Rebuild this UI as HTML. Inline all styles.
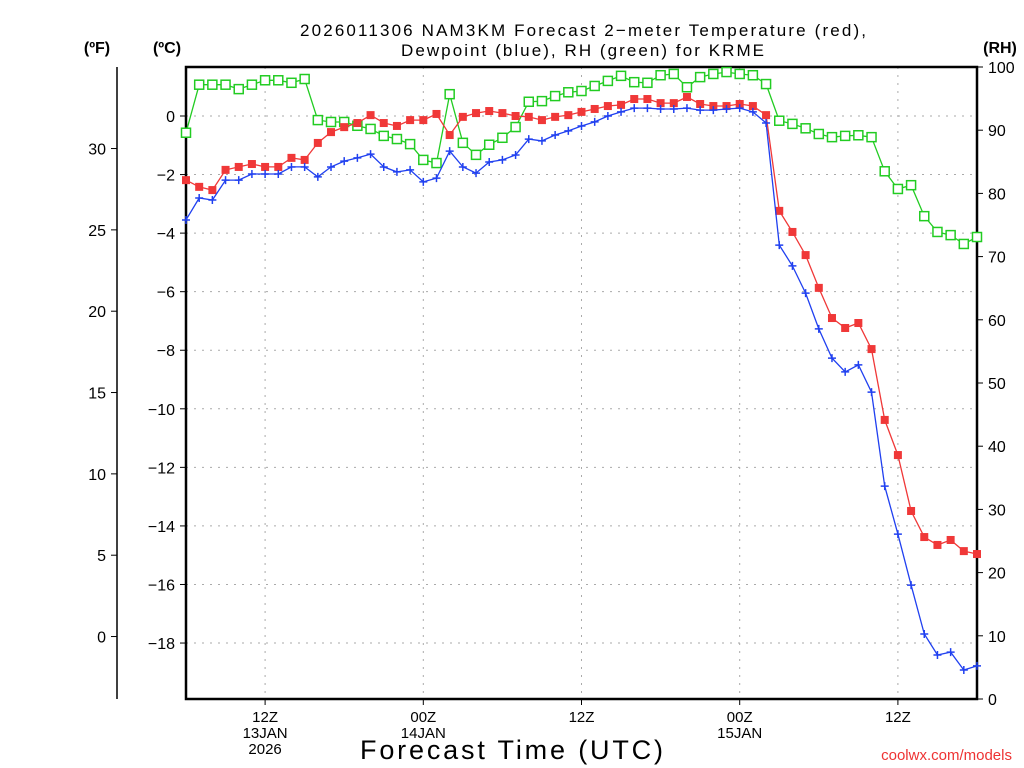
<!DOCTYPE html>
<html><head><meta charset="utf-8"><style>
html,body{margin:0;padding:0;background:#fff;}
svg{display:block;font-family:"Liberation Sans",sans-serif;}
</style></head><body>
<svg id="chart" width="1024" height="768" xmlns="http://www.w3.org/2000/svg">
<text x="300" y="36" textLength="566" lengthAdjust="spacing" font-size="17" fill="#000">2026011306 NAM3KM Forecast 2−meter Temperature (red),</text>
<text x="401" y="56" textLength="363" lengthAdjust="spacing" font-size="17" fill="#000">Dewpoint (blue), RH (green) for KRME</text>
<text x="97" y="53" text-anchor="middle" font-size="16" font-weight="bold">(ºF)</text>
<text x="167" y="53" text-anchor="middle" font-size="16" font-weight="bold">(ºC)</text>
<text x="1000" y="53" text-anchor="middle" font-size="16" font-weight="bold">(RH)</text>
<text x="360" y="759" textLength="303" lengthAdjust="spacing" font-size="27">Forecast Time (UTC)</text>
<text x="1012" y="760" text-anchor="end" font-size="15" fill="#e33">coolwx.com/models</text>
<g id="grid"></g><g id="axes"></g><g id="series"></g>
</svg>
<script>
const hours = Array.from({length:61},(_,i)=>i);
const tempC = [-2.19,-2.42,-2.53,-1.84,-1.74,-1.64,-1.74,-1.74,-1.43,-1.50,-0.92,-0.55,-0.38,-0.24,0.03,-0.24,-0.34,-0.14,-0.14,0.07,-0.65,-0.03,0.10,0.17,0.10,0,-0.03,-0.14,-0.03,0.03,0.14,0.24,0.34,0.38,0.58,0.58,0.44,0.44,0.65,0.41,0.34,0.34,0.41,0.34,0.03,-3.24,-3.96,-4.75,-5.87,-6.90,-7.24,-7.07,-7.96,-10.38,-11.58,-13.49,-14.38,-14.65,-14.48,-14.86,-14.96];
const dewC = [-3.55,-2.80,-2.87,-2.19,-2.19,-1.98,-1.98,-1.98,-1.74,-1.74,-2.08,-1.74,-1.54,-1.43,-1.30,-1.74,-1.91,-1.84,-2.25,-2.12,-1.20,-1.74,-1.95,-1.57,-1.50,-1.33,-0.79,-0.85,-0.65,-0.51,-0.34,-0.20,0,0.14,0.27,0.27,0.24,0.24,0.27,0.20,0.20,0.24,0.27,0.14,-0.24,-4.41,-5.12,-6.05,-7.27,-8.27,-8.74,-8.50,-9.43,-12.64,-14.28,-16.02,-17.69,-18.41,-18.31,-18.92,-18.78];
const rh = [89.6,97.2,97.2,97.2,96.5,97.2,97.9,97.9,97.5,98.1,91.6,91.3,91.3,90.7,90.2,89.1,88.6,87.8,85.3,84.8,95.7,88.0,86.1,87.7,88.8,90.5,94.5,94.6,95.4,96.0,96.2,97.0,97.8,98.6,97.6,97.5,98.7,98.9,96.8,98.4,98.9,99.2,98.9,98.7,97.3,91.5,91.0,90.3,89.4,88.9,89.1,89.2,88.9,83.5,80.7,81.3,76.4,73.9,73.4,72.0,73.1];
const cTicks = [0,-2,-4,-6,-8,-10,-12,-14,-16,-18];
const fTicks = [30,25,20,15,10,5,0];
const rhTicks = [0,10,20,30,40,50,60,70,80,90,100];
const timeTickHours = [6,18,30,42,54];
const timeTickLabels = [["12Z","13JAN","2026"],["00Z","14JAN"],["12Z"],["00Z","15JAN"],["12Z"]];

const X0=186,X1=977,Y0=67,Y1=699;
const x = h => X0 + h*(X1-X0)/60;
const yC = c => 116 - c*29.28;
const yF = f => yC((f-32)/1.8);
const yRH = r => Y1 - r*(Y1-Y0)/100;
const NS="http://www.w3.org/2000/svg";
function mk(tag, attrs, parent){const e=document.createElementNS(NS,tag);for(const k in attrs)e.setAttribute(k,attrs[k]);parent.appendChild(e);return e;}
const grid=document.getElementById('grid'),axes=document.getElementById('axes'),ser=document.getElementById('series');

cTicks.forEach(c=>{
  const g=mk('line',{x1:X0,x2:X1,y1:yC(c),y2:yC(c),stroke:'#aaa','stroke-dasharray':'2 6'},grid);
  
  
  const t=mk('line',{x1:X0-6,x2:X0,y1:yC(c),y2:yC(c),stroke:'#000'},axes);
  
  
  const l=mk('text',{x:175,y:yC(c)+6,'text-anchor':'end','font-size':16},axes);
  l.textContent=(c<0?'−':'')+Math.abs(c);
  
  
});
timeTickHours.forEach((h,i)=>{
  const g=mk('line',{x1:x(h),x2:x(h),y1:Y0,y2:Y1,stroke:'#aaa','stroke-dasharray':'2 6'},grid);
  
  
  const t=mk('line',{x1:x(h),x2:x(h),y1:Y1,y2:Y1+6,stroke:'#000'},axes);
  
  
  timeTickLabels[i].forEach((s,j)=>{
    const l=mk('text',{x:x(h),y:722+j*16,'text-anchor':'middle','font-size':15},axes);
    l.textContent=s;
    
    
  });
});
const fl=mk('line',{x1:117,x2:117,y1:Y0,y2:Y1,stroke:'#000','stroke-width':1.5},axes);


fTicks.forEach(f=>{
  const t=mk('line',{x1:111,x2:117,y1:yF(f),y2:yF(f),stroke:'#000'},axes);
  
  
  const l=mk('text',{x:106,y:yF(f)+6,'text-anchor':'end','font-size':16},axes);
  l.textContent=f;
  
  
});
rhTicks.forEach(r=>{
  const t=mk('line',{x1:X1,x2:X1+6,y1:yRH(r),y2:yRH(r),stroke:'#000'},axes);
  
  
  const l=mk('text',{x:988,y:yRH(r)+6,'font-size':16},axes);
  l.textContent=r;
  
  
});
const fr=mk('rect',{x:X0,y:Y0,width:X1-X0,height:Y1-Y0,fill:'none',stroke:'#000','stroke-width':2.5},axes);



function drawSeries(vals,yf,color,kind,name){
  const pts=hours.map(h=>x(h).toFixed(1)+','+yf(vals[h]).toFixed(1)).join(' ');
  const pl=mk('polyline',{points:pts,fill:'none',stroke:color,'stroke-width':1.3},ser);
  
  
  hours.forEach(h=>{
    const cx=x(h),cy=yf(vals[h]);let m;
    if(kind==='filled'){m=mk('rect',{x:cx-4,y:cy-4,width:8,height:8,fill:color},ser);}
    else if(kind==='hollow'){m=mk('rect',{x:cx-4.5,y:cy-4.5,width:9,height:9,fill:'#fff',stroke:color,'stroke-width':1.5},ser);}
    else{m=mk('path',{d:`M${cx-4},${cy}H${cx+4}M${cx},${cy-4}V${cy+4}`,stroke:color,'stroke-width':1.5},ser);}
    
    
  });
}
drawSeries(rh,yRH,'#22cc22','hollow','rh');
drawSeries(tempC,yC,'#f03838','filled','temperature');
drawSeries(dewC,yC,'#2040f0','plus','dewpoint');
</script>
</body></html>
